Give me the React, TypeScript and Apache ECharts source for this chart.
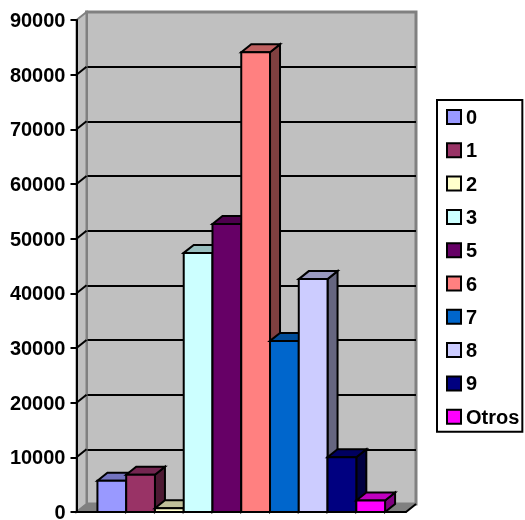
import React, { useEffect, useRef } from "react";
import * as echarts from "echarts";

const names = ["0", "1", "2", "3", "5", "6", "7", "8", "9", "Otros"];
const values = [5700, 6800, 700, 47400, 52700, 84100, 31300, 42600, 10000, 2100];
const fronts = ["#9999FF", "#993366", "#FFFFCC", "#CCFFFF", "#660066", "#FF8080", "#0066CC", "#CCCCFF", "#000080", "#FF00FF"];
const tops = ["#7373BF", "#732650", "#BFBF99", "#99BFBF", "#4D004D", "#BF6060", "#004D99", "#9999BF", "#000060", "#BF00BF"];
const sides = ["#4D4D80", "#4D1A33", "#808066", "#668080", "#330033", "#804040", "#003366", "#666680", "#000040", "#800080"];

const DX = 10;
const DY = 8;
const FONT = "'Liberation Sans', Arial, sans-serif";

export default function App() {
  const ref = useRef<HTMLDivElement>(null);
  useEffect(() => {
    const chart = echarts.init(ref.current!, undefined, { renderer: "svg" });
    const stroke = { stroke: "#000", lineWidth: 2 };

    const barSeries = names.map((name, i) => ({
      type: "custom",
      name,
      xAxisIndex: 0,
      yAxisIndex: 0,
      z: 3,
      clip: false,
      itemStyle: { color: fronts[i] },
      data: [[0, values[i]]],
      encode: { x: 0, y: 1 },
      renderItem: (_p: any, api: any) => {
        const base = api.coord([0, 0]);
        const top = api.coord([0, api.value(1)]);
        const w = (api.size([1, 0])[0] * 0.873) / names.length;
        const x0 = base[0] - (w * names.length) / 2 + i * w;
        const x1 = x0 + w;
        const y0 = top[1];
        const y1 = base[1];
        return {
          type: "group",
          children: [
            {
              type: "polygon",
              shape: { points: [[x1, y0], [x1 + DX, y0 - DY], [x1 + DX, y1 - DY], [x1, y1]] },
              style: { fill: sides[i], ...stroke },
            },
            {
              type: "polygon",
              shape: { points: [[x0, y0], [x0 + DX, y0 - DY], [x1 + DX, y0 - DY], [x1, y0]] },
              style: { fill: tops[i], ...stroke },
            },
            {
              type: "rect",
              shape: { x: x0, y: y0, width: w, height: y1 - y0 },
              style: { fill: fronts[i], ...stroke },
            },
          ],
        };
      },
    }));

    const tickValues = [10000, 20000, 30000, 40000, 50000, 60000, 70000, 80000];
    const frameSeries = {
      type: "custom",
      name: "frame",
      xAxisIndex: 0,
      yAxisIndex: 0,
      z: 1,
      clip: false,
      silent: true,
      data: [[0, 0]],
      encode: { x: 0, y: 1 },
      renderItem: (_p: any, api: any) => {
        const b = api.coord([0, 0]);
        const t = api.coord([0, 90000]);
        const band = api.size([1, 0])[0];
        const l = b[0] - band / 2;
        const r = b[0] + band / 2;
        return {
          type: "group",
          children: [
            {
              type: "polygon",
              shape: { points: [[l, t[1]], [l + DX, t[1] - DY], [l + DX, b[1] - DY], [l, b[1]]] },
              style: { fill: "#C0C0C0", stroke: "#808080", lineWidth: 2 },
            },
            {
              type: "polygon",
              shape: { points: [[l, b[1]], [l + DX, b[1] - DY], [r + DX, b[1] - DY], [r, b[1]]] },
              style: { fill: "#808080", stroke: "#808080", lineWidth: 1 },
            },
            ...tickValues.map((v) => {
              const p = api.coord([0, v]);
              return {
                type: "line",
                shape: { x1: l, y1: p[1], x2: l + DX, y2: p[1] - DY },
                style: stroke,
              };
            }),
            {
              type: "line",
              shape: { x1: r, y1: b[1], x2: r + DX, y2: b[1] - DY },
              style: stroke,
            },
          ],
        };
      },
    };

    chart.setOption({
      animation: false,
      grid: [
        { left: 76.5, top: 20, width: 329.5, height: 492, outerBoundsMode: "none" },
        {
          left: 76.5 + DX,
          top: 20 - DY,
          width: 329.5,
          height: 492,
          outerBoundsMode: "none",
          show: true,
          backgroundColor: "#C0C0C0",
          borderColor: "#808080",
          borderWidth: 3,
        },
      ],
      xAxis: [
        {
          type: "category",
          gridIndex: 0,
          data: [""],
          z: 4,
          axisLine: { lineStyle: { color: "#000", width: 2 } },
          axisTick: { length: 6, lineStyle: { color: "#000", width: 2 } },
          axisLabel: { show: false },
        },
        { type: "category", gridIndex: 1, data: [""], show: false },
      ],
      yAxis: [
        {
          type: "value",
          gridIndex: 0,
          min: 0,
          max: 90000,
          interval: 10000,
          z: 4,
          splitLine: { show: false },
          axisLine: { show: true, lineStyle: { color: "#000", width: 2 } },
          axisTick: { show: true, length: 6, lineStyle: { color: "#000", width: 2 } },
          axisLabel: {
            color: "#000",
            fontFamily: FONT,
            fontSize: 20,
            lineHeight: 15,
            fontWeight: "bold",
            margin: 11,
            formatter: (v: number) => String(v),
          },
        },
        {
          type: "value",
          gridIndex: 1,
          min: 0,
          max: 90000,
          interval: 10000,
          axisLine: { show: false },
          axisTick: { show: false },
          axisLabel: { show: false },
          splitLine: { show: true, showMinLine: false, showMaxLine: false, lineStyle: { color: "#000", width: 2 } },
        },
      ],
      legend: {
        orient: "vertical",
        left: 437,
        top: 100,
        padding: [7, 3, 5, 9],
        data: names,
        icon: "rect",
        itemWidth: 14,
        itemHeight: 14,
        itemGap: 13.3,
        selectedMode: false,
        backgroundColor: "#fff",
        borderColor: "#000",
        borderWidth: 2,
        itemStyle: { borderColor: "#000", borderWidth: 2 },
        textStyle: { color: "#000", fontFamily: FONT, fontSize: 20, fontWeight: "bold" },
      },
      series: [frameSeries, ...barSeries],
    });
    return () => chart.dispose();
  }, []);
  return <div ref={ref} style={{ position: "fixed", left: 0, top: 0, width: 525, height: 520 }} />;
}
